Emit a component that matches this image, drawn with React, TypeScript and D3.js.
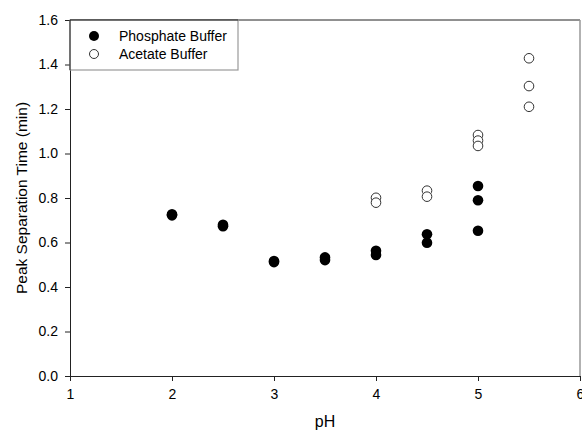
import React, { useEffect, useRef } from 'react';
import * as d3 from 'd3';

interface Point {
  ph: number;
  value: number;
}

// Phosphate buffer runs (filled circles)
const phosphatePh = [2, 2, 2.5, 2.5, 3, 3, 3.5, 3.5, 4, 4, 4.5, 4.5, 5, 5, 5];
const phosphateValues = [0.727, 0.722, 0.68, 0.673, 0.517, 0.512, 0.533, 0.521, 0.563, 0.544, 0.637, 0.599, 0.854, 0.79, 0.653];

// Acetate buffer runs (open circles)
const acetatePh = [4, 4, 4.5, 4.5, 5, 5, 5, 5.5, 5.5, 5.5];
const acetateValues = [0.801, 0.779, 0.833, 0.806, 1.083, 1.058, 1.034, 1.428, 1.303, 1.21];

const xTicks = [1, 2, 3, 4, 5, 6];
const yTicks = [0, 0.2, 0.4, 0.6, 0.8, 1.0, 1.2, 1.4, 1.6];

const seriesNames = ['Phosphate Buffer', 'Acetate Buffer'];

const toPoints = (xs: number[], ys: number[]): Point[] => xs.map((ph, i) => ({ ph, value: ys[i] }));

const FONT = 'Arial, "Liberation Sans", sans-serif';

const App: React.FC = () => {
  const svgRef = useRef<SVGSVGElement | null>(null);

  useEffect(() => {
    if (!svgRef.current) return;
    const width = 582;
    const height = 432;
    const margin = { top: 20, right: 2, bottom: 56, left: 70 };
    const innerWidth = width - margin.left - margin.right;
    const innerHeight = height - margin.top - margin.bottom;

    const svg = d3.select(svgRef.current)
      .attr('width', width)
      .attr('height', height);
    svg.selectAll('*').remove();

    const g = svg.append('g').attr('transform', `translate(${margin.left},${margin.top})`);

    const x = d3.scaleLinear().domain([1, 6]).range([0, innerWidth]);
    const y = d3.scaleLinear().domain([0, 1.6]).range([innerHeight, 0]);

    // frame: top dark, right grey
    g.append('line')
      .attr('x1', 0).attr('x2', innerWidth).attr('y1', 0).attr('y2', 0)
      .attr('stroke', '#222').attr('stroke-width', 1);
    g.append('line')
      .attr('x1', innerWidth).attr('x2', innerWidth).attr('y1', 0).attr('y2', innerHeight)
      .attr('stroke', '#999').attr('stroke-width', 1.5);

    // X axis
    const xAxis = g.append('g')
      .attr('transform', `translate(0,${innerHeight})`)
      .call(d3.axisBottom(x).tickValues(xTicks).tickFormat(d3.format('d')).tickSize(5).tickSizeOuter(0).tickPadding(8));
    xAxis.selectAll('text')
      .style('fill', '#000')
      .style('font-size', '14px')
      .style('font-family', FONT);
    xAxis.selectAll('path, line').style('stroke', '#222');

    // Y axis
    const yAxis = g.append('g')
      .call(d3.axisLeft(y).tickValues(yTicks).tickFormat(d3.format('.1f')).tickSize(5).tickSizeOuter(0).tickPadding(7));
    yAxis.selectAll('text')
      .style('fill', '#000')
      .style('font-size', '14px')
      .style('font-family', FONT);
    yAxis.selectAll('path, line').style('stroke', '#222');

    // Axis titles
    svg.append('text')
      .attr('x', margin.left + x(3.5))
      .attr('y', 427)
      .attr('text-anchor', 'middle')
      .style('font-size', '16px')
      .style('font-family', FONT)
      .text('pH');
    svg.append('text')
      .attr('transform', `translate(27,${margin.top + innerHeight / 2}) rotate(-90)`)
      .attr('text-anchor', 'middle')
      .style('font-size', '15.5px')
      .style('font-family', FONT)
      .text('Peak Separation Time (min)');

    const phosphate = toPoints(phosphatePh, phosphateValues);
    const acetate = toPoints(acetatePh, acetateValues);

    g.selectAll('.acetate')
      .data(acetate)
      .enter()
      .append('circle')
      .attr('class', 'acetate')
      .attr('cx', d => x(d.ph))
      .attr('cy', d => y(d.value))
      .attr('r', 4.8)
      .attr('fill', '#fff')
      .attr('stroke', '#333')
      .attr('stroke-width', 1);

    g.selectAll('.phosphate')
      .data(phosphate)
      .enter()
      .append('circle')
      .attr('class', 'phosphate')
      .attr('cx', d => x(d.ph))
      .attr('cy', d => y(d.value))
      .attr('r', 5.3)
      .attr('fill', '#000');

    // Legend
    const legend = g.append('g');
    legend.append('rect')
      .attr('x', 0).attr('y', 0).attr('width', 168).attr('height', 50)
      .attr('fill', '#fff')
      .attr('stroke', '#999')
      .attr('stroke-width', 1.2);
    legend.append('line')
      .attr('x1', 0).attr('x2', 168).attr('y1', 0).attr('y2', 0)
      .attr('stroke', '#222');
    legend.append('line')
      .attr('x1', 0).attr('x2', 0).attr('y1', 0).attr('y2', 50)
      .attr('stroke', '#222');
    seriesNames.forEach((name, i) => {
      const cy = 16 + i * 18;
      legend.append('circle')
        .attr('cx', 24)
        .attr('cy', cy)
        .attr('r', i === 0 ? 5 : 4.5)
        .attr('fill', i === 0 ? '#000' : '#fff')
        .attr('stroke', i === 0 ? 'none' : '#333')
        .attr('stroke-width', 1);
      legend.append('text')
        .attr('x', 49)
        .attr('y', cy + 5)
        .style('font-size', '14px')
        .style('font-family', FONT)
        .text(name);
    });
  }, []);

  return (
    <div style={{ position: 'absolute', left: 0, top: 0 }}>
      <svg ref={svgRef} style={{ display: 'block' }}></svg>
    </div>
  );
};

export default App;
